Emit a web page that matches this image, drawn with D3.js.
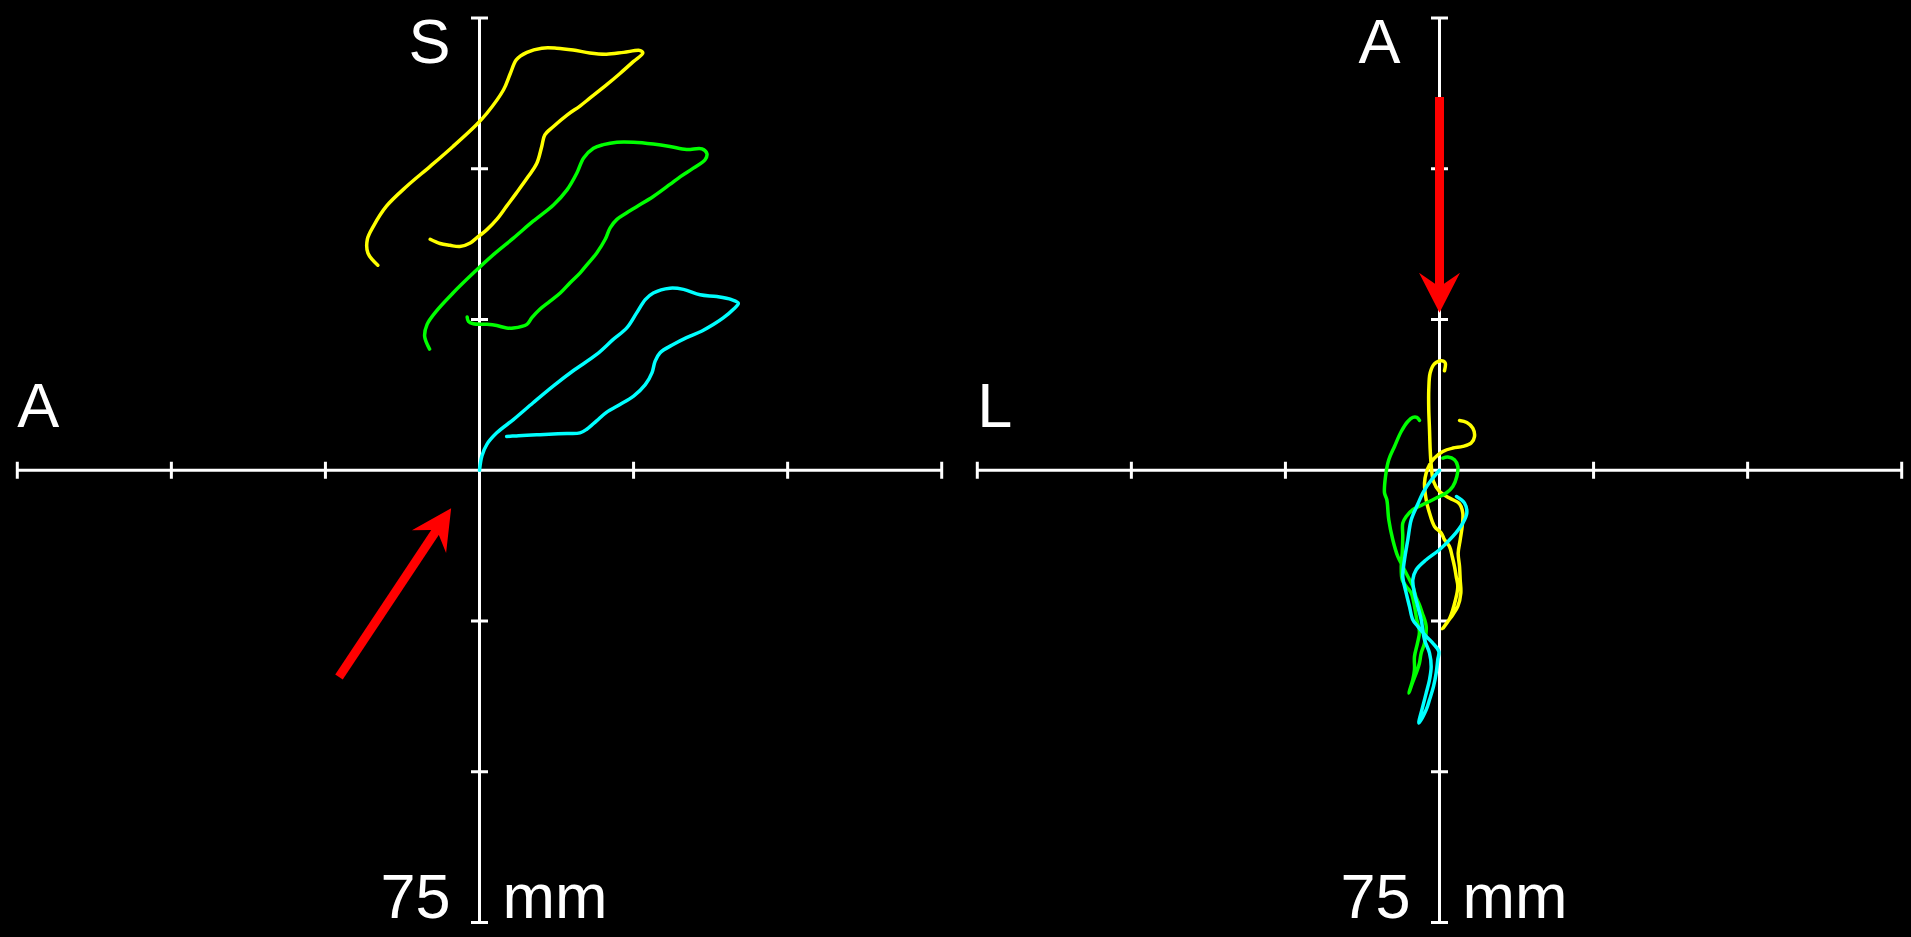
<!DOCTYPE html>
<html><head><meta charset="utf-8">
<script src="https://cdn.jsdelivr.net/npm/d3@7"></script>
<style>html,body{margin:0;padding:0;background:#000;overflow:hidden}</style>
</head><body>
<svg id="c" width="1911" height="937"></svg>
<script>
// ---- data (mm) ----
const axisDomain = [-75, 75];
const tickValues = [-75, -50, -25, 25, 50, 75];
const topLabels = ["S", "A"];
const leftLabels = ["A", "L"];
const scaleLabels = ["75", "75"];
const unitLabels = ["mm", "mm"];
const seriesColors = ["#ffff00", "#00ff00", "#00ffff"];

// left panel (sagittal view): [anterior-posterior, superior-inferior]
const sagYellow = [[-16.5,34.0],[-18.1,36.0],[-18.2,38.3],[-17.2,40.5],[-15.1,43.8],[-11.8,47.1],[-8.0,50.4],[-4.3,53.7],[-0.5,57.3],[1.2,59.2],[3.9,63.1],[5.0,65.8],[6.0,68.1],[7.7,69.3],[10.1,70.0],[12.5,70.0],[15.2,69.7],[17.9,69.2],[20.6,69.0],[23.4,69.3],[26.1,69.6],[26.5,69.2],[25.0,67.8],[22.8,65.8],[20.6,63.9],[17.9,61.7],[16.3,60.4],[14.2,58.9],[12.0,57.0],[10.6,55.6],[10.1,53.7],[9.3,50.9],[7.9,48.7],[6.0,46.0],[4.4,43.8],[2.8,41.6],[1.2,39.9],[-0.5,38.5],[-1.5,37.7],[-3.2,37.1],[-4.8,37.3],[-6.4,37.6],[-8.0,38.3]];
const sagGreen = [[-8.1,20.1],[-8.9,22.2],[-8.5,24.2],[-7.0,26.4],[-4.3,29.4],[-1.0,32.7],[2.3,35.8],[5.5,38.5],[8.7,41.3],[12.0,44.0],[14.2,46.5],[15.8,49.3],[16.9,51.8],[18.5,53.4],[20.1,54.0],[22.3,54.4],[25.0,54.4],[28.2,54.1],[30.9,53.7],[33.6,53.2],[36.1,53.3],[36.9,52.5],[36.6,51.5],[34.7,50.1],[32.6,48.7],[30.9,47.4],[28.2,45.4],[25.5,43.7],[23.9,42.7],[22.3,41.6],[21.2,40.2],[20.4,38.3],[19.0,36.0],[17.7,34.4],[16.3,32.7],[14.7,31.1],[13.1,29.4],[11.4,28.0],[9.8,26.7],[8.5,25.3],[7.7,24.2],[5.5,23.6],[4.4,23.6],[2.8,24.0],[1.2,24.2],[-1.0,24.3],[-1.8,24.7],[-2.0,25.4]];
const sagCyan = [[0,0],[0.4,2.4],[1.2,4.3],[2.8,6.2],[5.5,8.4],[8.7,11.2],[12.0,14.0],[15.2,16.5],[19.0,19.2],[21.7,21.7],[23.9,23.6],[25.5,26.1],[26.9,28.3],[28.2,29.4],[30.9,30.2],[33.1,30.0],[35.8,29.1],[38.5,28.8],[40.9,28.3],[42.0,27.7],[41.2,26.7],[39.6,25.3],[38.0,24.2],[36.1,23.1],[33.6,22.0],[31.5,20.9],[29.3,19.5],[28.5,18.1],[28.0,16.2],[26.9,14.2],[25.0,12.3],[22.8,10.9],[20.6,9.6],[19.0,8.2],[17.4,6.8],[16.3,6.2],[14.2,6.1],[12.0,6.0],[9.8,5.9],[7.7,5.8],[6.0,5.7],[4.4,5.6]];

// right panel (axial view): [left-right, anterior-posterior]
const axYellow = [[0.81,16.50],[0.92,17.83],[0.28,18.16],[-0.81,17.66],[-1.51,16.17],[-1.74,13.35],[-1.74,10.03],[-1.62,6.72],[-1.51,3.40],[-1.35,0.91],[-0.97,-1.86],[0,-3.52],[1.62,-4.61],[3.25,-5.56],[3.78,-7.10],[3.68,-9.32],[3.36,-11.53],[3.03,-13.73],[3.25,-15.95],[3.36,-18.16],[3.46,-20.37],[2.97,-22.59],[2.16,-23.96],[1.35,-25.08],[0.49,-26.29],[1.62,-24.63],[2.60,-21.48],[2.97,-19.27],[2.71,-17.61],[2.43,-15.95],[2.06,-14.30],[1.62,-12.64],[0.81,-11.53],[0.28,-10.41],[-0.81,-9.32],[-1.62,-7.10],[-2.16,-4.89],[-2.43,-2.12],[-2.16,-0.46],[-1.62,0.91],[-0.81,2.02],[0.54,3.12],[2.16,3.68],[3.78,3.95],[5.14,4.51],[5.68,5.61],[5.40,7.00],[4.43,7.93],[3.25,8.26]];
const axGreen = [[0.54,2.02],[1.35,2.19],[2.43,1.74],[2.97,0.63],[2.81,-1.03],[2.16,-2.69],[1.09,-3.78],[-0.54,-4.61],[-2.16,-5.44],[-4.33,-6.55],[-5.40,-7.66],[-5.96,-8.76],[-5.96,-10.98],[-6.05,-13.73],[-6.21,-15.95],[-6.05,-18.16],[-5.40,-19.27],[-4.59,-20.37],[-4.06,-22.59],[-3.68,-24.79],[-3.25,-26.78],[-3.57,-28.66],[-4.06,-30.88],[-4.06,-33.09],[-4.33,-34.74],[-4.98,-36.95],[-4.38,-35.24],[-3.68,-33.37],[-3.25,-31.97],[-2.97,-30.32],[-2.43,-28.66],[-2.16,-25.90],[-2.81,-23.63],[-3.25,-22.31],[-3.78,-21.14],[-4.33,-19.27],[-5.14,-17.61],[-5.96,-15.95],[-6.77,-14.30],[-7.58,-11.53],[-8.23,-8.21],[-8.55,-4.89],[-8.92,-3.78],[-8.76,-1.03],[-8.23,1.74],[-7.30,3.95],[-6.21,6.43],[-5.14,8.09],[-4.33,8.76],[-3.68,8.76],[-3.25,8.26]];
const axCyan = [[0,0],[-1.30,-1.58],[-2.60,-3.57],[-3.57,-5.72],[-4.59,-8.21],[-5.14,-11.53],[-5.68,-14.84],[-5.96,-17.61],[-5.40,-20.37],[-4.87,-22.59],[-4.33,-24.79],[-3.52,-25.90],[-2.16,-27.56],[-1.09,-28.66],[-0.11,-30.05],[-0.28,-31.43],[-0.54,-33.63],[-0.97,-35.85],[-1.62,-38.06],[-2.16,-39.72],[-3.36,-41.92],[-2.71,-39.17],[-2.16,-36.95],[-1.62,-34.74],[-1.35,-32.54],[-1.62,-30.32],[-2.43,-28.11],[-2.97,-24.79],[-3.52,-22.59],[-4.06,-20.37],[-4.33,-18.16],[-3.78,-16.50],[-2.16,-14.84],[0,-13.18],[2.16,-10.98],[3.78,-8.76],[4.43,-7.10],[4.06,-5.44],[2.76,-4.35]];

// red arrows: [tail, tip] in mm
const sagArrow = [[-22.8,-34.3],[-4.6,-6.3]];
const axArrow = [[0,61.9],[0,26.1]];

// ---- layout ----
const panelLeft = [17.3, 977.3];
const panelWidth = 924.4;
const yTop = 18, yBottom = 922.5;
const tickHalf = 8.5;
const font = "'Liberation Sans', Arial, Helvetica, sans-serif";
const fontSize = 63;

const svg = d3.select("#c");
svg.append("rect").attr("width",1911).attr("height",937).attr("fill","#000");

const panels = [
  {series:[sagYellow, sagGreen, sagCyan], arrow: sagArrow, topDx: -50},
  {series:[axYellow, axGreen, axCyan], arrow: axArrow, topDx: -60}
];

panels.forEach((p, i) => {
  const x = d3.scaleLinear().domain(axisDomain).range([panelLeft[i], panelLeft[i] + panelWidth]);
  const y = d3.scaleLinear().domain(axisDomain).range([yBottom, yTop]);
  const g = svg.append("g");

  // axes
  const ax = g.append("g").attr("stroke","#fff").attr("stroke-width",3);
  ax.append("line").attr("x1",x(-75)).attr("x2",x(75)).attr("y1",y(0)).attr("y2",y(0));
  ax.append("line").attr("x1",x(0)).attr("x2",x(0)).attr("y1",y(-75)).attr("y2",y(75));
  ax.selectAll("line.tx").data(tickValues).join("line").attr("class","tx")
    .attr("x1",d=>x(d)).attr("x2",d=>x(d)).attr("y1",y(0)-tickHalf).attr("y2",y(0)+tickHalf);
  ax.selectAll("line.ty").data(tickValues).join("line").attr("class","ty")
    .attr("y1",d=>y(d)).attr("y2",d=>y(d)).attr("x1",x(0)-tickHalf).attr("x2",x(0)+tickHalf);

  // labels
  const t = g.append("g").attr("fill","#fff").attr("font-family",font).attr("font-size",fontSize);
  t.append("text").attr("x",x(0)+p.topDx).attr("y",63).attr("text-anchor","middle").text(topLabels[i]);
  t.append("text").attr("x",x(-75)).attr("y",427).attr("text-anchor","start").text(leftLabels[i]);
  t.append("text").attr("x",x(0)-29).attr("y",918).attr("text-anchor","end").text(scaleLabels[i]);
  t.append("text").attr("x",x(0)+23).attr("y",918).attr("text-anchor","start").text(unitLabels[i]);

  // trajectories
  const line = d3.line().x(d=>x(d[0])).y(d=>y(d[1])).curve(d3.curveCatmullRom.alpha(0.5));
  g.selectAll("path.traj").data(p.series).join("path").attr("class","traj")
    .attr("d", line).attr("fill","none")
    .attr("stroke",(d,k)=>seriesColors[k]).attr("stroke-width",3.5)
    .attr("stroke-linejoin","round").attr("stroke-linecap","round");

  // arrow
  const [tail, tip] = p.arrow;
  const tx = x(tail[0]), ty = y(tail[1]), px = x(tip[0]), py = y(tip[1]);
  const len = Math.hypot(px-tx, py-ty);
  const ux = (px-tx)/len, uy = (py-ty)/len, nx = -uy, ny = ux;
  const headLen = 40, headHalf = 20.5, notch = 29, shaftW = 9;
  g.append("line").attr("x1",tx).attr("y1",ty)
    .attr("x2",px-ux*(notch-1)).attr("y2",py-uy*(notch-1))
    .attr("stroke","#ff0000").attr("stroke-width",shaftW);
  const pt = (a,b) => [px - ux*a + nx*b, py - uy*a + ny*b];
  const head = [pt(0,0), pt(headLen, headHalf), pt(notch, shaftW/2), pt(notch, -shaftW/2), pt(headLen, -headHalf)];
  g.append("polygon").attr("points", head.map(q=>q.join(",")).join(" ")).attr("fill","#ff0000");
});
</script>
</body></html>
